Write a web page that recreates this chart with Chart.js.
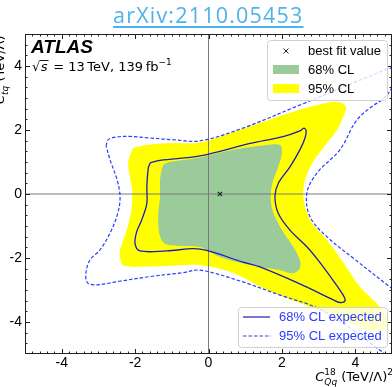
<!DOCTYPE html>
<html>
<head>
<meta charset="utf-8">
<script src="https://cdn.jsdelivr.net/npm/chart.js@4/dist/chart.umd.min.js"></script>
<style>
  html, body { margin: 0; padding: 0; background: #fff; overflow: hidden; }
  #wrap { position: relative; width: 392px; height: 387px; }
  #cv { position: absolute; left: 0; top: 0; }
  #ref {
    position: absolute; left: 113px; top: 1px;
    font-family: "Open Sans", sans-serif; font-size: 21.5px; letter-spacing: 1.2px;
    color: #4db3e8; text-decoration: underline; text-decoration-thickness: 2px;
    text-underline-offset: 3px; white-space: nowrap; line-height: 28px;
  }
</style>
</head>
<body>
<div id="wrap">
  <canvas id="cv" width="392" height="387"></canvas>
  <div id="ref">arXiv:2110.05453</div>
</div>
<script>
// Axis ticks
const xTicks = [-4, -2, 0, 2, 4];
const yTicks = [-4, -2, 0, 2, 4];
const xRange = [-5, 5];
const yRange = [-5, 5];

// Best fit point (C_Qq^18, C_tq)
const bestFit = [0.31, 0.0];

// Observed 95% CL region boundary
const cl95Obs = [
  [-2.06, 1.44], [-1.68, 1.53], [-0.97, 1.59], [-0.23, 1.61], [0.59, 1.91],
  [1.40, 2.22], [2.49, 2.63], [3.39, 2.88], [3.64, 2.84], [3.75, 2.69],
  [3.67, 2.41], [3.50, 2.00], [3.23, 1.59], [2.77, 0.84], [2.58, 0.03],
  [2.77, -0.81], [3.23, -1.44], [3.72, -2.22], [4.13, -2.91], [4.67, -3.53],
  [4.89, -3.94], [4.84, -4.19], [4.48, -4.28], [3.58, -3.88], [2.49, -3.41],
  [1.59, -3.00], [0.67, -2.47], [-0.23, -2.22], [-1.14, -2.25], [-2.06, -2.27],
  [-2.33, -2.22], [-2.41, -2.00], [-2.41, -1.75], [-2.23, -1.13], [-2.09, -0.41],
  [-2.09, 0.22], [-2.19, 0.97]
];

// Observed 68% CL region boundary
const cl68Obs = [
  [-1.05, 1.01], [-0.23, 1.14], [0.67, 1.38], [1.59, 1.53], [1.95, 1.53],
  [2.00, 1.28], [1.90, 0.85], [1.72, 0.23], [1.72, -0.40], [1.95, -1.02],
  [2.31, -1.65], [2.49, -2.06], [2.49, -2.32], [2.31, -2.48], [1.95, -2.38],
  [1.13, -2.22], [0.31, -1.97], [-0.23, -1.66], [-1.14, -1.58], [-1.32, -1.33],
  [-1.37, -0.71], [-1.32, -0.08], [-1.32, 0.44], [-1.23, 0.91]
];

// Expected 68% CL contour
const cl68Exp = [
  [-1.59, 0.97], [-1.32, 1.05], [-0.23, 1.19], [1.13, 1.58], [2.03, 1.79],
  [2.49, 1.97], [2.60, 2.06], [2.66, 1.97], [2.63, 1.75], [2.49, 1.38],
  [2.22, 0.85], [1.90, 0.33], [1.81, -0.08], [1.90, -0.60], [2.22, -1.13],
  [2.68, -1.65], [2.98, -2.06], [3.39, -2.69], [3.67, -3.16], [3.72, -3.34],
  [3.58, -3.39], [3.39, -3.30], [2.49, -2.81], [1.40, -2.28], [0.94, -2.13],
  [-0.23, -1.72], [-1.14, -1.78], [-1.87, -1.78], [-2.00, -1.56], [-1.96, -1.19],
  [-1.82, -0.81], [-1.68, -0.29], [-1.68, 0.23], [-1.64, 0.81]
];

// Expected 95% CL contour
const cl95Exp = [
  [-2.79, 1.50], [-2.74, 1.69], [-2.52, 1.78], [-2.14, 1.80], [-1.59, 1.75],
  [-0.91, 1.69], [-0.23, 1.66], [0.94, 2.06], [2.49, 2.78], [3.67, 3.34],
  [4.54, 3.75], [5.00, 3.94], [5.16, 3.88], [5.08, 3.50], [4.81, 3.03],
  [4.40, 2.69], [4.02, 2.28], [3.58, 1.38], [2.96, 0.66], [2.68, 0.03],
  [2.77, -0.72], [3.23, -1.34], [3.94, -2.00], [4.95, -2.91], [5.76, -3.63],
  [6.58, -5.19], [5.22, -5.25], [4.67, -4.88], [3.86, -4.19], [2.96, -3.56],
  [1.95, -3.16], [0.86, -2.72], [-0.23, -2.38], [-0.70, -2.46], [-1.59, -2.58],
  [-2.50, -2.74], [-3.05, -2.84], [-3.30, -2.77], [-3.34, -2.47], [-3.23, -2.06],
  [-2.96, -1.75], [-2.68, -1.22], [-2.47, -0.59], [-2.41, -0.09], [-2.49, 0.44],
  [-2.68, 1.06]
];

const closed = arr => arr.concat([arr[0]]).map(([x, y]) => ({ x, y }));

const YELLOW = '#ffff00';
const GREEN = '#9bca9b';
const NAVY = '#1d1db4';
const BLUE = '#2a3cff';
const DASH = [3.5, 2];
const SANS = '"Liberation Sans", Arial, sans-serif';
const MATH = '"DejaVu Sans", sans-serif';

// text runs: {t, f, dy} or {stack: [{t, f, dy}, ...]} for sub/superscript pairs
function runWidth(ctx, runs) {
  let w = 0;
  for (const r of runs) {
    if (r.stack) {
      let m = 0;
      for (const s of r.stack) { ctx.font = s.f; m = Math.max(m, ctx.measureText(s.t).width); }
      w += m;
    } else { ctx.font = r.f; w += ctx.measureText(r.t).width; }
  }
  return w;
}
function drawRuns(ctx, x, y, runs) {
  let cx = x;
  for (const r of runs) {
    if (r.stack) {
      let m = 0;
      for (const s of r.stack) {
        ctx.font = s.f; ctx.fillText(s.t, cx, y + s.dy);
        m = Math.max(m, ctx.measureText(s.t).width);
      }
      cx += m;
    } else {
      ctx.font = r.f; ctx.fillText(r.t, cx, y + (r.dy || 0));
      cx += ctx.measureText(r.t).width;
    }
  }
  return cx;
}

const xTitle = [
  { t: 'C', f: 'oblique 13px ' + MATH },
  { stack: [{ t: '18', f: '9px ' + MATH, dy: -6.5 }, { t: 'Qq', f: 'oblique 9px ' + MATH, dy: 3.5 }] },
  { t: ' (TeV/Λ)', f: '13px ' + MATH },
  { t: '2', f: '9px ' + MATH, dy: -6.5 }
];
const yTitle = [
  { t: 'C', f: 'oblique 13px ' + MATH },
  { t: 'tq', f: 'oblique 9px ' + MATH, dy: 3.5 },
  { t: ' (TeV/Λ)', f: '13px ' + MATH },
  { t: '2', f: '9px ' + MATH, dy: -6.5 }
];

// axes frame with inward major/minor ticks on all four sides
const framePlugin = {
  id: 'frame',
  afterDatasetsDraw(chart) {
    const { ctx, chartArea: a, scales: { x, y } } = chart;
    ctx.save();
    ctx.strokeStyle = '#222';
    ctx.lineWidth = 1;
    ctx.beginPath();
    for (let i = -25; i <= 25; i++) {
      const p = Math.round(x.getPixelForValue(i * 0.2)) + 0.5;
      const len = (i % 10 === 0) ? 5 : 2.5;
      if (p < a.left || p > a.right) continue;
      ctx.moveTo(p, a.bottom); ctx.lineTo(p, a.bottom - len);
      ctx.moveTo(p, a.top); ctx.lineTo(p, a.top + len);
    }
    for (let i = -15; i <= 15; i++) {
      const p = Math.round(y.getPixelForValue(i / 3)) + 0.5;
      const len = (i % 6 === 0) ? 5 : 2.5;
      if (p < a.top || p > a.bottom) continue;
      ctx.moveTo(a.left, p); ctx.lineTo(a.left + len, p);
      ctx.moveTo(a.right, p); ctx.lineTo(a.right - len, p);
    }
    ctx.stroke();
    ctx.strokeRect(a.left + 0.5, a.top + 0.5, a.width - 1, a.height - 1);
    ctx.restore();
  },
  afterDraw(chart) {
    const { ctx } = chart;
    ctx.save();
    ctx.textBaseline = 'alphabetic';

    // ATLAS label
    ctx.fillStyle = '#000';
    ctx.font = 'italic bold 19px ' + SANS;
    ctx.fillText('ATLAS', 31, 53);
    // centre-of-mass energy and luminosity
    ctx.font = '13px ' + MATH;
    let cx = 32;
    ctx.fillText('√', cx, 71);
    cx += ctx.measureText('√').width;
    ctx.font = 'oblique 13px ' + MATH;
    const sw = ctx.measureText('s').width;
    ctx.fillText('s', cx + 0.5, 71);
    ctx.beginPath(); ctx.lineWidth = 0.9; ctx.strokeStyle = '#000';
    ctx.moveTo(cx - 0.5, 60.5); ctx.lineTo(cx + sw + 1.5, 60.5); ctx.stroke();
    cx += sw + 2;
    drawRuns(ctx, cx, 71, [
      { t: ' = 13\u2009TeV, 139\u2009fb', f: '13px ' + MATH },
      { t: '\u22121', f: '9px ' + MATH, dy: -6 }
    ]);

    // axis titles
    const xw = runWidth(ctx, xTitle);
    drawRuns(ctx, 393 - xw, 381, xTitle);
    ctx.save();
    ctx.translate(4, 104);
    ctx.rotate(-Math.PI / 2);
    drawRuns(ctx, 0, 0, yTitle);
    ctx.restore();

    // legend boxes
    const box = (x0, y0, w, h) => {
      ctx.beginPath();
      ctx.roundRect(x0 + 0.5, y0 + 0.5, w, h, 3);
      ctx.fillStyle = 'rgba(255,255,255,0.8)';
      ctx.fill();
      ctx.strokeStyle = '#d0d0d0'; ctx.lineWidth = 1; ctx.stroke();
    };
    box(267, 40, 120, 60);
    ctx.textBaseline = 'middle';
    ctx.font = '13px ' + SANS;
    ctx.fillStyle = '#000';
    ctx.fillText('best fit value', 308, 51);
    ctx.fillText('68% CL', 308, 70);
    ctx.fillText('95% CL', 308, 89);
    ctx.strokeStyle = '#222'; ctx.lineWidth = 1;
    ctx.beginPath();
    ctx.moveTo(283.5, 48.5); ctx.lineTo(288.5, 53.5);
    ctx.moveTo(288.5, 48.5); ctx.lineTo(283.5, 53.5);
    ctx.stroke();
    ctx.fillStyle = GREEN; ctx.fillRect(273, 65, 26, 9);
    ctx.fillStyle = YELLOW; ctx.fillRect(273, 84, 26, 9);

    box(238, 307, 149, 40);
    ctx.fillStyle = BLUE;
    ctx.font = '13px ' + SANS;
    ctx.fillText('68% CL expected', 279, 317);
    ctx.fillText('95% CL expected', 279, 336);
    ctx.lineWidth = 1.2;
    ctx.strokeStyle = NAVY;
    ctx.beginPath(); ctx.moveTo(243, 317); ctx.lineTo(270, 317); ctx.stroke();
    ctx.strokeStyle = BLUE;
    ctx.setLineDash(DASH);
    ctx.beginPath(); ctx.moveTo(243, 336); ctx.lineTo(271, 336); ctx.stroke();
    ctx.restore();
  }
};

const tickFont = { family: SANS, size: 14 };
const noPad = s => { s.paddingLeft = 0; s.paddingRight = 0; s.paddingTop = 0; s.paddingBottom = 0; };

new Chart(document.getElementById('cv'), {
  type: 'scatter',
  data: {
    datasets: [
      { data: closed(cl95Obs), showLine: true, fill: 'shape', backgroundColor: YELLOW,
        borderColor: 'rgba(0,0,0,0)', borderWidth: 0, pointRadius: 0, tension: 0.35, order: 10 },
      { data: closed(cl68Obs), showLine: true, fill: 'shape', backgroundColor: GREEN,
        borderColor: 'rgba(0,0,0,0)', borderWidth: 0, pointRadius: 0, tension: 0.35, order: 9 },
      { data: [{ x: 0, y: yRange[0] }, { x: 0, y: yRange[1] }], showLine: true, borderColor: '#7a7a7a',
        borderWidth: 1, pointRadius: 0, order: 8 },
      { data: [{ x: xRange[0], y: 0 }, { x: xRange[1], y: 0 }], showLine: true, borderColor: '#7a7a7a',
        borderWidth: 1, pointRadius: 0, order: 7 },
      { data: closed(cl68Exp), showLine: true, fill: false, borderColor: NAVY, borderWidth: 1.3,
        pointRadius: 0, tension: 0.35, order: 6 },
      { data: closed(cl95Exp), showLine: true, fill: false, borderColor: BLUE, borderWidth: 1.2,
        borderDash: DASH, pointRadius: 0, tension: 0.35, order: 5 },
      { data: [{ x: bestFit[0], y: bestFit[1] }], pointStyle: 'crossRot', pointRadius: 3,
        borderColor: '#222', borderWidth: 1.2, backgroundColor: '#222', order: 1 }
    ]
  },
  options: {
    responsive: false,
    animation: false,
    events: [],
    layout: { autoPadding: false, padding: { top: 34, right: 0, left: 0, bottom: 0 } },
    elements: { line: { capBezierPoints: false } },
    plugins: { legend: { display: false }, tooltip: { enabled: false } },
    scales: {
      x: {
        type: 'linear', min: xRange[0], max: xRange[1],
        afterBuildTicks: s => { s.ticks = xTicks.map(v => ({ value: v })); },
        afterFit: s => { s.height = 33; noPad(s); },
        grid: { display: false, drawTicks: false }, border: { display: false },
        ticks: { font: tickFont, color: '#000', padding: 1, maxRotation: 0, autoSkip: false,
                 callback: v => String(v) }
      },
      y: {
        type: 'linear', min: yRange[0], max: yRange[1],
        afterBuildTicks: s => { s.ticks = yTicks.map(v => ({ value: v })); },
        afterFit: s => { s.width = 25; noPad(s); },
        grid: { display: false, drawTicks: false }, border: { display: false },
        ticks: { font: tickFont, color: '#000', padding: 3, autoSkip: false,
                 callback: v => String(v) }
      }
    }
  },
  plugins: [framePlugin]
});
</script>
</body>
</html>
